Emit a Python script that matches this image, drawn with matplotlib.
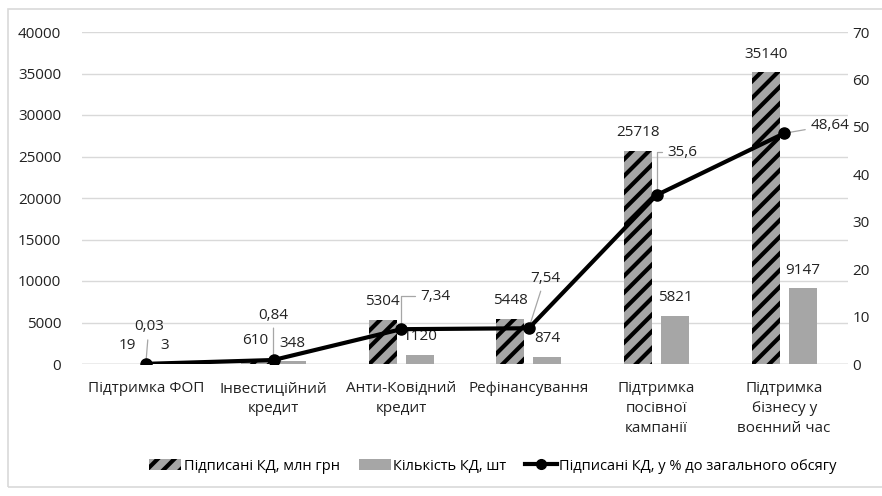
import numpy as np
import matplotlib
matplotlib.use('Agg')
import matplotlib.pyplot as plt
from matplotlib.patches import Rectangle, Patch
from matplotlib.lines import Line2D

plt.rcParams['font.family'] = ['Open Sans', 'DejaVu Sans']
plt.rcParams['hatch.linewidth'] = 3.0

categories = ['Підтримка ФОП', 'Інвестиційний\nкредит', 'Анти-Ковідний\nкредит',
              'Рефінансування', 'Підтримка\nпосівної\nкампанії',
              'Підтримка\nбізнесу у\nвоєнний час']
signed_mln = [19, 610, 5304, 5448, 25718, 35140]
count_kd = [3, 348, 1120, 874, 5821, 9147]
share_pct = [0.03, 0.84, 7.34, 7.54, 35.6, 48.64]
share_lbl = ['0,03', '0,84', '7,34', '7,54', '35,6', '48,64']
# label offsets (pixels) for the line labels, and leader style
share_off = [(3, 37), (0, 45), (34, 33), (16, 50), (26, 43), (46, 8)]
share_conn = ['arc3', 'arc3', 'angle,angleA=180,angleB=90,rad=0', 'arc3',
              'angle,angleA=180,angleB=90,rad=0', 'arc3']

fig = plt.figure(figsize=(8.82, 4.96), dpi=100)
fig.patches.append(Rectangle((8 / 882, 9 / 496), 880 / 882, 478 / 496, transform=fig.transFigure,
                             fill=False, edgecolor='#d9d9d9', lw=1.2))
ax = fig.add_axes([82 / 882, 132 / 496, 766 / 882, 332 / 496])
ax2 = ax.twinx()

x = np.arange(len(categories))
w = 0.22
off = 0.145
ax.bar(x - off, signed_mln, w, color='#a6a6a6', edgecolor='black', lw=0, hatch='//', zorder=2)
ax.bar(x + off, count_kd, w, color='#a6a6a6', lw=0, zorder=2)

for xi, v in zip(x, signed_mln):
    ax.annotate(str(v), (xi - off, v), xytext=(0, 18), textcoords='offset pixels',
                ha='center', va='center', fontsize=11, color='#222222')
for xi, v in zip(x, count_kd):
    ax.annotate(str(v), (xi + off, v), xytext=(0, 18), textcoords='offset pixels',
                ha='center', va='center', fontsize=11, color='#222222')

ax2.plot(x, share_pct, color='black', lw=3, marker='o', ms=8, zorder=5)
for xi, v, s, o, c in zip(x, share_pct, share_lbl, share_off, share_conn):
    ax2.annotate(s, (xi, v), xytext=o, textcoords='offset pixels', ha='center', va='center',
                 fontsize=11, color='#222222',
                 arrowprops=dict(arrowstyle='-', color='#a6a6a6', lw=0.9, shrinkA=2, shrinkB=3,
                                 connectionstyle=c))

ax.set_xlim(-0.5, 5.5)
ax.set_ylim(0, 40000)
ax.set_yticks(np.arange(0, 40001, 5000))
ax2.set_ylim(0, 70)
ax2.set_yticks(np.arange(0, 71, 10))
ax.set_xticks(x)
ax.set_xticklabels(categories, fontsize=11, color='#222222', linespacing=1.45)
ax.grid(axis='y', color='#d9d9d9', lw=1, zorder=0)
ax.set_axisbelow(True)
for a in (ax, ax2):
    for sp in a.spines.values():
        sp.set_visible(False)
    a.tick_params(length=0, labelsize=11, colors='#222222')
ax.tick_params(axis='y', pad=15)
ax.tick_params(axis='x', pad=12)
ax2.tick_params(axis='y', pad=3)
ax.axhline(0, color='#bfbfbf', lw=1, zorder=1)

handles = [Patch(facecolor='#a6a6a6', edgecolor='black', lw=0, hatch='//'),
           Patch(facecolor='#a6a6a6', lw=0),
           Line2D([0], [0], color='black', lw=3, marker='o', ms=7)]
labels = ['Підписані КД, млн грн', 'Кількість КД, шт', 'Підписані КД, у % до загального обсягу']
fig.legend(handles, labels, loc='center', bbox_to_anchor=(493 / 882, 1 - 466 / 496), ncol=3,
           frameon=False, fontsize=10.5, handlelength=2.2, handletextpad=0.15, columnspacing=1.3)

fig.savefig('out.png', dpi=100)
